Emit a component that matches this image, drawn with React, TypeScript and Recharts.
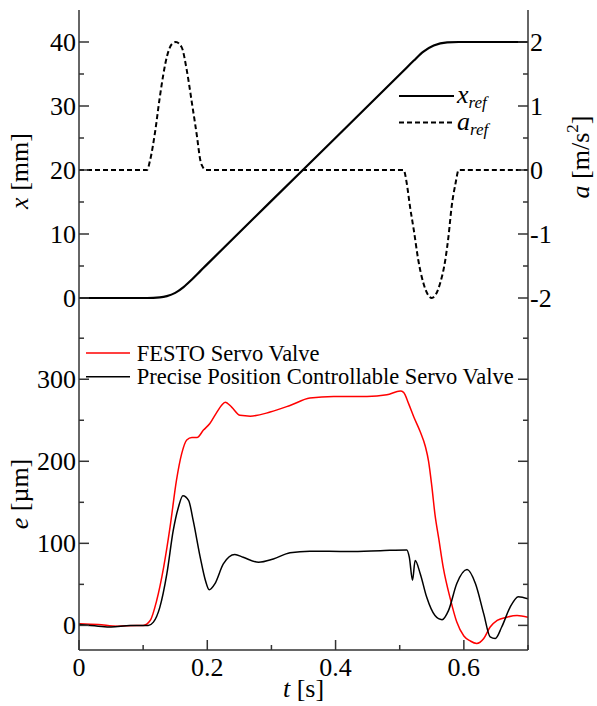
import React from "react";
import { LineChart, Line, XAxis, YAxis, Legend } from "recharts";

const FONT = "Liberation Serif, serif";
const AXIS = "#333";

// top panel: reference trajectory
const xRefT = [0, 0.106, 0.126, 0.137, 0.15, 0.163, 0.176, 0.189, 0.198, 0.349, 0.506, 0.522, 0.537, 0.553, 0.574, 0.592, 0.7];
const xRefMm = [0, 0, 0.1, 0.3, 0.8, 1.7, 2.9, 4.2, 5.1, 20, 35.5, 37.1, 38.5, 39.45, 39.95, 40, 40];

const aRefT = [0, 0.106, 0.111, 0.119, 0.126, 0.137, 0.145, 0.151, 0.16, 0.168, 0.176, 0.184, 0.189, 0.194, 0.198,
  0.506, 0.511, 0.516, 0.522, 0.529, 0.537, 0.55, 0.563, 0.571, 0.576, 0.581, 0.587, 0.592, 0.7];
const aRefAcc = [0, 0, 0.16, 0.62, 1.14, 1.77, 1.97, 2.0, 1.92, 1.56, 1.05, 0.52, 0.16, 0.03, 0,
  0, -0.21, -0.57, -0.94, -1.41, -1.77, -2.0, -1.77, -1.41, -1.04, -0.57, -0.21, 0, 0];

// bottom panel: tracking error
const festoT = [0, 0.03, 0.06, 0.09, 0.1, 0.111, 0.121, 0.132, 0.142, 0.152, 0.16, 0.168, 0.176, 0.184, 0.194, 0.204,
  0.215, 0.222, 0.228, 0.238, 0.251, 0.267, 0.298, 0.329, 0.36, 0.397, 0.449, 0.48, 0.501, 0.506, 0.514, 0.522,
  0.532, 0.54, 0.545, 0.55, 0.555, 0.561, 0.568, 0.579, 0.589, 0.6, 0.61, 0.62, 0.631, 0.641, 0.652, 0.667, 0.683, 0.7];
const festoErr = [2, 1, -1, 0, 0, 6, 30, 71, 120, 177, 209, 226, 229, 229, 238, 246,
  260, 268, 272, 266, 256, 255, 260, 268, 277, 279, 279, 281, 285.6, 284, 270, 254,
  236, 218, 200, 170, 135, 105, 70, 32, 4, -13, -19, -22, -16, -2, 6, 10, 12, 10];

const ppcT = [0, 0.03, 0.05, 0.08, 0.108, 0.116, 0.126, 0.137, 0.147, 0.155, 0.162, 0.171, 0.178, 0.189, 0.197, 0.203,
  0.212, 0.225, 0.243, 0.256, 0.28, 0.303, 0.329, 0.36, 0.42, 0.47, 0.511, 0.515, 0.52, 0.524, 0.532, 0.542, 0.555,
  0.566, 0.576, 0.589, 0.605, 0.618, 0.631, 0.641, 0.649, 0.659, 0.672, 0.685, 0.7];
const ppcErr = [1, -1, -2, 0, 0, 4, 22, 63, 116, 144, 158, 152, 128, 83, 55, 43.5,
  51, 75, 86.5, 83, 77, 81, 88.6, 90.5, 90, 91, 92, 83, 55, 79, 63, 34.5, 12,
  7, 18, 51, 68, 51, 14, -14, -16, -2, 22, 35, 32.5];

const topNames = ["x_ref", "a_ref"];
const bottomNames = ["FESTO Servo Valve", "Precise Position Controllable Servo Valve"];

const timeTicks = [0, 0.1, 0.2, 0.3, 0.4, 0.5, 0.6, 0.7];
const xTicks = [0, 5, 10, 15, 20, 25, 30, 35, 40];
const aTicks = [-2, -1.5, -1, -0.5, 0, 0.5, 1, 1.5, 2];
const eTicks = [0, 50, 100, 150, 200, 250, 300, 350];

const zip = (ts: number[], vs: number[]) => ts.map((t, i) => ({ t, v: vs[i] }));

const every = (step: number) => (v: number) => Math.abs(v / step - Math.round(v / step)) < 1e-6;
const timeLabel = (v: number) => (v === 0 ? "0" : v.toFixed(1));
const intLabel = (v: number) => String(v);

const ordered = (payload: any[] | undefined, names: string[]) =>
  names.map((n) => (payload || []).find((e: any) => e.value === n)).filter(Boolean);

type Side = "bottom" | "top" | "left" | "right";

function inwardTick(side: Side, isMajor: (v: number) => boolean, label?: (v: number) => string) {
  return (props: any) => {
    const { x, y, payload } = props;
    const v = payload.value as number;
    const major = isMajor(v);
    const len = major ? 10 : 5;
    const txt = label && major ? label(v) : "";
    let line = null;
    let text = null;
    const tp = { fontFamily: FONT, fontSize: 26, fill: "#000", stroke: "none" };
    if (side === "bottom") {
      line = <line x1={x} y1={y} x2={x} y2={y - len} />;
      if (txt) text = <text {...tp} x={x} y={y + 26} textAnchor="middle">{txt}</text>;
    } else if (side === "top") {
      line = <line x1={x} y1={y} x2={x} y2={y + len} />;
    } else if (side === "left") {
      line = <line x1={x} y1={y} x2={x + len} y2={y} />;
      if (txt) text = <text {...tp} x={x - 3} y={y} dy="0.35em" textAnchor="end">{txt}</text>;
    } else {
      line = <line x1={x} y1={y} x2={x - len} y2={y} />;
      if (txt) text = <text {...tp} x={x + 2} y={y} dy="0.35em" textAnchor="start">{txt}</text>;
    }
    return (
      <g stroke={AXIS} strokeWidth={1.5}>
        {line}
        {text}
      </g>
    );
  };
}

function VTitle({ cx, cy, children }: { cx: number; cy: number; children: React.ReactNode }) {
  return (
    <text x={cx} y={cy} transform={`rotate(-90 ${cx} ${cy})`} textAnchor="middle"
      fontFamily={FONT} fontSize={26} fill="#000">
      {children}
    </text>
  );
}

function TopLegend({ payload }: any) {
  return (
    <svg width={130} height={60} style={{ display: "block" }}>
      {ordered(payload, topNames).map((e: any, i: number) => {
        const y = 16 + i * 26.5;
        const [main, sub] = String(e.value).split("_");
        return (
          <g key={i}>
            <line x1={4} x2={59} y1={y} y2={y} stroke={e.color} strokeWidth={2}
              strokeDasharray={e.payload?.strokeDasharray} />
            <text x={62} y={y + 7} fontFamily={FONT} fontSize={26} fontStyle="italic" fill="#000">
              {main}
              <tspan fontSize={17} dy={5}>{sub}</tspan>
            </text>
          </g>
        );
      })}
    </svg>
  );
}

function BottomLegend({ payload }: any) {
  return (
    <svg width={445} height={52} style={{ display: "block" }}>
      {ordered(payload, bottomNames).map((e: any, i: number) => {
        const y = 15 + i * 23.7;
        return (
          <g key={i}>
            <line x1={6} x2={50} y1={y} y2={y} stroke={e.color} strokeWidth={1.5} />
            <text x={56.7} y={y + 7.5} fontFamily={FONT} fontSize={22.5} fill="#000">{e.value}</text>
          </g>
        );
      })}
    </svg>
  );
}

export default function App() {
  const xRefData = zip(xRefT, xRefMm);
  const aRefData = zip(aRefT, aRefAcc);
  const festoData = zip(festoT, festoErr);
  const ppcData = zip(ppcT, ppcErr);
  const axisCommon = { stroke: AXIS, tickLine: false, tickSize: 0, tickMargin: 0, interval: 0 as const };
  const axisLine = { stroke: AXIS, strokeWidth: 1.5 };

  return (
    <div style={{ position: "absolute", left: 0, top: 0, width: 597, height: 706, background: "#fff", fontFamily: FONT }}>
      <div style={{ position: "absolute", left: 0, top: 0 }}>
        <LineChart width={597} height={332} margin={{ top: 10, right: 0, bottom: 2, left: 0 }}>
          <XAxis xAxisId="b" type="number" dataKey="t" domain={[0, 0.7]} allowDataOverflow ticks={timeTicks}
            orientation="bottom" height={0} axisLine={axisLine} {...axisCommon}
            tick={inwardTick("bottom", every(0.2))} />
          <XAxis xAxisId="t" type="number" dataKey="t" domain={[0, 0.7]} allowDataOverflow ticks={timeTicks}
            orientation="top" height={0} axisLine={axisLine} {...axisCommon}
            tick={inwardTick("top", every(0.2))} />
          <YAxis yAxisId="x" type="number" domain={[-5, 45]} allowDataOverflow ticks={xTicks} width={79}
            orientation="left" axisLine={axisLine} {...axisCommon}
            tick={inwardTick("left", every(10), intLabel)}
            label={(p: any) => {
              const vb = p.viewBox || { x: 0, y: 10, width: 79, height: 320 };
              return (
                <VTitle cx={vb.x + 28} cy={vb.y + vb.height / 2 + 1}>
                  <tspan fontStyle="italic">x</tspan> [mm]
                </VTitle>
              );
            }} />
          <YAxis yAxisId="a" type="number" domain={[-2.5, 2.5]} allowDataOverflow ticks={aTicks} width={69}
            orientation="right" axisLine={axisLine} {...axisCommon}
            tick={inwardTick("right", every(1), intLabel)}
            label={(p: any) => {
              const vb = p.viewBox || { x: 528, y: 10, width: 69, height: 320 };
              return (
                <VTitle cx={vb.x + 61} cy={vb.y + vb.height / 2 - 13}>
                  <tspan fontStyle="italic">a</tspan> [m/s<tspan fontSize={17} dy={-11}>2</tspan>
                  <tspan dy={11}>]</tspan>
                </VTitle>
              );
            }} />
          <Legend layout="vertical" align="center" verticalAlign="middle"
            wrapperStyle={{ left: 395, top: 80, width: 130, height: 60 }}
            content={(p: any) => <TopLegend payload={p.payload} />} />
          <Line data={xRefData} dataKey="v" name="x_ref" xAxisId="b" yAxisId="x" type="monotone"
            stroke="#000" strokeWidth={2.2} dot={false} isAnimationActive={false} />
          <Line data={aRefData} dataKey="v" name="a_ref" xAxisId="b" yAxisId="a" type="monotone"
            stroke="#000" strokeWidth={2} strokeDasharray="5 3" dot={false} isAnimationActive={false} />
        </LineChart>
      </div>
      <div style={{ position: "absolute", left: 0, top: 330 }}>
        <LineChart width={597} height={376} margin={{ top: 0, right: 0, bottom: 0, left: 0 }}>
          <XAxis xAxisId="b" type="number" dataKey="t" domain={[0, 0.7]} allowDataOverflow ticks={timeTicks}
            orientation="bottom" height={56} axisLine={axisLine} {...axisCommon}
            tick={inwardTick("bottom", every(0.2), timeLabel)}
            label={(p: any) => {
              const vb = p.viewBox || { x: 79, y: 650, width: 449, height: 56 };
              return (
                <text x={vb.x + vb.width / 2} y={vb.y + 47} textAnchor="middle" fontFamily={FONT} fontSize={26} fill="#000">
                  <tspan fontStyle="italic">t</tspan> [s]
                </text>
              );
            }} />
          <XAxis xAxisId="t" type="number" dataKey="t" domain={[0, 0.7]} allowDataOverflow ticks={timeTicks}
            orientation="top" height={0} axisLine={axisLine} {...axisCommon}
            tick={inwardTick("top", every(0.2))} />
          <YAxis yAxisId="e" type="number" domain={[-30, 360]} allowDataOverflow ticks={eTicks} width={79}
            orientation="left" axisLine={axisLine} {...axisCommon}
            tick={inwardTick("left", every(100), intLabel)}
            label={(p: any) => {
              const vb = p.viewBox || { x: 0, y: 0, width: 79, height: 320 };
              return (
                <VTitle cx={vb.x + 28} cy={vb.y + vb.height / 2 + 4}>
                  <tspan fontStyle="italic">e</tspan> [µm]
                </VTitle>
              );
            }} />
          <YAxis yAxisId="r" type="number" domain={[-30, 360]} allowDataOverflow ticks={eTicks} width={69}
            orientation="right" axisLine={axisLine} {...axisCommon}
            tick={inwardTick("right", every(100))} />
          <Legend layout="vertical" align="center" verticalAlign="middle"
            wrapperStyle={{ left: 80, top: 8, width: 445, height: 52 }}
            content={(p: any) => <BottomLegend payload={p.payload} />} />
          <Line data={festoData} dataKey="v" name="FESTO Servo Valve" xAxisId="b" yAxisId="e" type="monotone"
            stroke="#ff0000" strokeWidth={1.5} dot={false} isAnimationActive={false} />
          <Line data={ppcData} dataKey="v" name="Precise Position Controllable Servo Valve" xAxisId="b" yAxisId="e"
            type="monotone" stroke="#000" strokeWidth={1.5} dot={false} isAnimationActive={false} />
        </LineChart>
      </div>
    </div>
  );
}
